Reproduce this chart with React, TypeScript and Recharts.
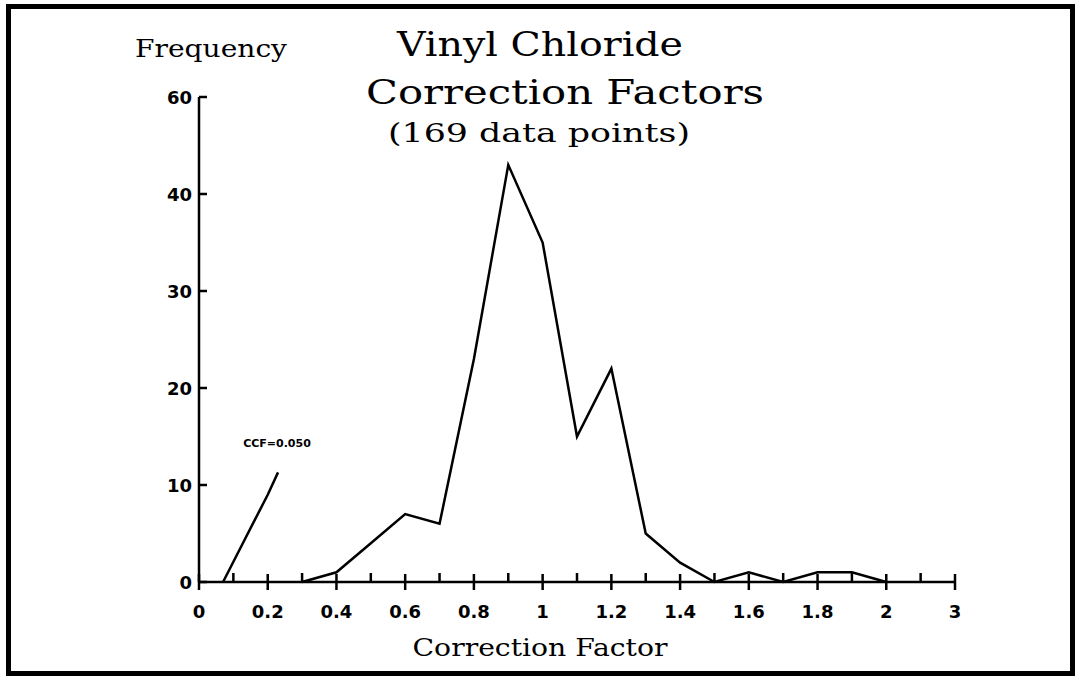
import { LineChart, Line, XAxis, YAxis } from "recharts";

// correction factor bins (0.1 wide) and their counts
const factors = [0.3, 0.4, 0.5, 0.6, 0.7, 0.8, 0.9, 1.0, 1.1, 1.2, 1.3, 1.4, 1.5, 1.6, 1.7, 1.8, 1.9, 2.0];
const frequency = [0, 1, 4, 7, 6, 23, 43, 35, 15, 22, 5, 2, 0, 1, 0, 1, 1, 0];

// the short "CCF=0.050" line near the origin
const ccfFactors = [0.07, 0.2, 0.23];
const ccfValues = [0, 9, 11.3];

// axis ticks: x steps of 0.1 up to 2, then 2.5 and 3 squeezed in
const xTickLabels = ["0", "0.2", "0.4", "0.6", "0.8", "1", "1.2", "1.4", "1.6", "1.8", "2", "3"];
const yTicks = [0, 10, 20, 30, 40, 50];
const yTickLabels = ["0", "10", "20", "30", "40", "60"];

// broken x scale: linear to 2, then half-density to 3
const pos = (f: number) => (f <= 2 ? f * 10 : 20 + (f - 2) * 2);

const mainData = factors.map((f, i) => ({ pos: pos(f), freq: frequency[i] }));
const ccfData = ccfFactors.map((f, i) => ({ pos: pos(f), freq: ccfValues[i] }));
const xTicks = Array.from({ length: 23 }, (_, i) => i);

const labelFont = "'DejaVu Sans', sans-serif";
const titleFont = "'DejaVu Serif', 'Liberation Serif', serif";

function XTick({ x, y, payload }: any) {
  const v = payload.value as number;
  const major = v % 2 === 0;
  return (
    <g>
      <line x1={x} x2={x} y1={major ? y - 8 : y - 9} y2={major ? y + 8 : y} stroke="#000" strokeWidth={2.5} />
      {major && (
        <text x={x} y={y + 36} textAnchor="middle" fontFamily={labelFont} fontWeight={700} fontSize={18} fill="#000">
          {xTickLabels[v / 2]}
        </text>
      )}
    </g>
  );
}

function YTick({ x, y, payload }: any) {
  const idx = yTicks.indexOf(payload.value);
  return (
    <g>
      <line x1={x} x2={x + 8} y1={y} y2={y} stroke="#000" strokeWidth={2.5} />
      <text x={x - 7} y={y + 7} textAnchor="end" fontFamily={labelFont} fontWeight={700} fontSize={18} fill="#000">
        {yTickLabels[idx]}
      </text>
    </g>
  );
}

function Title({ x, y, size, width, children }: any) {
  return (
    <text
      x={x}
      y={y}
      textAnchor="middle"
      fontFamily={titleFont}
      fontSize={size}
      fill="#000"
      textLength={width}
      lengthAdjust="spacingAndGlyphs"
    >
      {children}
    </text>
  );
}

export default function App() {
  return (
    <div style={{ position: "absolute", left: 0, top: 0, width: 1080, height: 680, background: "#fff" }}>
      <div
        style={{
          position: "absolute",
          left: 6,
          top: 4,
          width: 1069,
          height: 672,
          border: "5px solid #000",
          boxSizing: "border-box",
        }}
      />
      <LineChart width={1080} height={680} margin={{ top: 97, right: 125, bottom: 58, left: 139 }}>
        <XAxis
          dataKey="pos"
          type="number"
          domain={[0, 22]}
          ticks={xTicks}
          interval={0}
          tickSize={0}
          tickMargin={0}
          tickLine={false}
          tick={<XTick />}
          axisLine={{ stroke: "#000", strokeWidth: 2.5 }}
          height={40}
          allowDuplicatedCategory={false}
        />
        <YAxis
          type="number"
          domain={[0, 50]}
          ticks={yTicks}
          interval={0}
          tickSize={0}
          tickMargin={0}
          tickLine={false}
          tick={<YTick />}
          axisLine={{ stroke: "#000", strokeWidth: 2.5 }}
          width={60}
        />
        <Line data={mainData} dataKey="freq" type="linear" stroke="#000" strokeWidth={2.5} dot={false} isAnimationActive={false} />
        <Line data={ccfData} dataKey="freq" type="linear" stroke="#000" strokeWidth={2.5} dot={false} isAnimationActive={false} />
        <Title x={540} y={56} size={33} width={286}>Vinyl Chloride</Title>
        <Title x={565} y={104} size={33} width={398}>Correction Factors</Title>
        <Title x={539} y={142} size={26} width={302}>(169 data points)</Title>
        <Title x={211} y={57} size={24} width={152}>Frequency</Title>
        <Title x={540} y={656} size={24} width={255}>Correction Factor</Title>
        <text x={277} y={447} textAnchor="middle" fontFamily={labelFont} fontWeight={700} fontSize={11} fill="#000">
          CCF=0.050
        </text>
      </LineChart>
    </div>
  );
}
